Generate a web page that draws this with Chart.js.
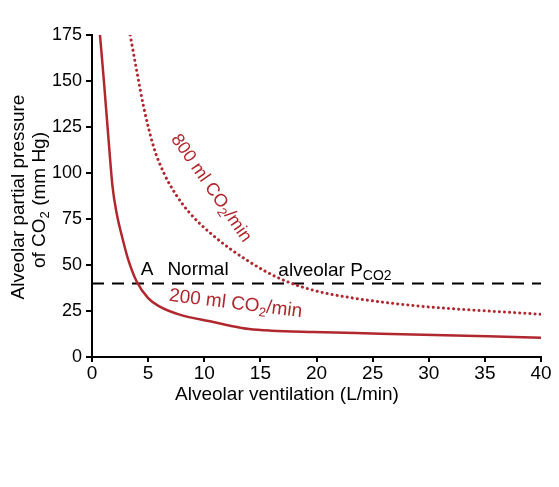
<!DOCTYPE html>
<html>
<head>
<meta charset="utf-8">
<script src="https://cdn.jsdelivr.net/npm/chart.js@4"></script>
<style>
  html, body { margin: 0; padding: 0; background: #fff; }
  #wrap { width: 559px; height: 487px; }
</style>
</head>
<body>
<div id="wrap"><canvas id="chart" width="559" height="487"></canvas></div>
<script>
// ---- data ----
const vent200 = [0.71, 1.06, 1.45, 1.84, 2.2, 2.65, 3.2, 3.98, 5.0, 6.0, 7.8, 10.8, 12.3, 14, 16, 19.7, 25.7, 40];
const pco2At200 = [175, 150, 120, 92, 78, 66, 53.5, 41, 32, 27.5, 23, 19, 17, 15.2, 14.3, 13.6, 12.7, 10.5];

const vent800 = [3.4, 4.0, 4.6, 5.5, 6.4, 7.4, 8.6, 10.8, 13.8, 16.75, 19.7, 22.7, 28.6, 40];
const pco2At800 = [175, 155, 136, 114, 100, 89, 79, 66, 52.6, 42.6, 36.3, 32.6, 28, 23.2];

const normalVent = [0, 40];
const normalPco2 = [40, 40];

const xTicks = [0, 5, 10, 15, 20, 25, 30, 35, 40];
const yTicks = [0, 25, 50, 75, 100, 125, 150, 175];

const RED = '#B0282E';
const FONT = '"Liberation Sans", Arial, Helvetica, sans-serif';
const TXT = 19;

const toPoints = (xs, ys) => xs.map((x, i) => ({ x: x, y: ys[i] }));

// draws a run of text pieces, some of them subscript, centred on (x, y)
function drawRich(ctx, parts, x, y, angle, color, size) {
  size = size || TXT;
  ctx.save();
  ctx.translate(x, y);
  ctx.rotate(angle * Math.PI / 180);
  ctx.fillStyle = color;
  ctx.textBaseline = 'alphabetic';
  ctx.textAlign = 'left';
  let total = 0;
  parts.forEach(p => {
    ctx.font = (p.sub ? p.sub : size) + 'px ' + FONT;
    total += ctx.measureText(p.t).width;
  });
  let cx = -total / 2;
  parts.forEach(p => {
    ctx.font = (p.sub ? p.sub : size) + 'px ' + FONT;
    ctx.fillText(p.t, cx, p.sub ? 4 : 0);
    cx += ctx.measureText(p.t).width;
  });
  ctx.restore();
}

const labelsPlugin = {
  id: 'labels',
  afterDraw(chart) {
    const ctx = chart.ctx;
    // axis titles
    drawRich(ctx, [{ t: 'Alveolar partial pressure' }], 24, 197, -90, '#000');
    drawRich(ctx, [{ t: 'of CO' }, { t: '2', sub: 13 }, { t: ' (mm Hg)' }], 45, 200, -90, '#000');
    drawRich(ctx, [{ t: 'Alveolar ventilation (L/min)' }], 287, 400, 0, '#000');

    // annotations
    drawRich(ctx, [{ t: 'A' }], 147, 275, 0, '#000');
    drawRich(ctx, [{ t: 'Normal' }], 198, 275, 0, '#000');
    drawRich(ctx, [{ t: 'alveolar P' }, { t: 'CO2', sub: 14 }], 335, 276, 0, '#000');

    drawRich(ctx, [{ t: '200 ml CO' }, { t: '2', sub: 13 }, { t: '/min' }], 235, 309, 7, RED);
    drawRich(ctx, [{ t: '800 ml CO' }, { t: '2', sub: 13 }, { t: '/min' }], 207, 191, 55, RED, 18);
  }
};

new Chart(document.getElementById('chart'), {
  type: 'scatter',
  data: {
    datasets: [
      {
        label: '200 ml CO2/min',
        data: toPoints(vent200, pco2At200),
        showLine: true,
        borderColor: RED,
        borderWidth: 2.5,
        pointRadius: 0,
        cubicInterpolationMode: 'monotone'
      },
      {
        label: '800 ml CO2/min',
        data: toPoints(vent800, pco2At800),
        showLine: true,
        borderColor: RED,
        borderWidth: 3,
        borderDash: [0.1, 5],
        borderCapStyle: 'round',
        pointRadius: 0,
        cubicInterpolationMode: 'monotone'
      },
      {
        label: 'Normal alveolar PCO2',
        data: toPoints(normalVent, normalPco2),
        showLine: true,
        borderColor: '#000',
        borderWidth: 2,
        borderDash: [12, 8],
        pointRadius: 0
      }
    ]
  },
  options: {
    responsive: false,
    animation: false,
    layout: { padding: { left: 0, top: 35, right: 18, bottom: 0 } },
    plugins: {
      legend: { display: false },
      tooltip: { enabled: false }
    },
    scales: {
      x: {
        type: 'linear',
        min: 0,
        max: 40,
        afterBuildTicks: (s) => { s.ticks = xTicks.map(v => ({ value: v })); },
        afterFit: (s) => { s.height = 130; },
        ticks: { color: '#000', padding: 0, font: { family: FONT, size: TXT }, maxRotation: 0 },
        grid: { drawOnChartArea: false, drawTicks: true, tickLength: 5, color: '#000', lineWidth: 2 },
        border: { display: true, color: '#000', width: 2 }
      },
      y: {
        type: 'linear',
        min: 0,
        max: 175,
        afterBuildTicks: (s) => { s.ticks = yTicks.map(v => ({ value: v })); },
        afterFit: (s) => { s.width = 92; },
        ticks: { color: '#000', padding: 4, font: { family: FONT, size: 18 } },
        grid: { drawOnChartArea: false, drawTicks: true, tickLength: 6, color: '#000', lineWidth: 2 },
        border: { display: true, color: '#000', width: 2 }
      }
    }
  },
  plugins: [labelsPlugin]
});
</script>
</body>
</html>
